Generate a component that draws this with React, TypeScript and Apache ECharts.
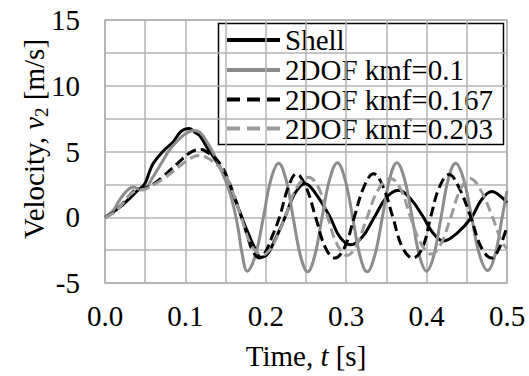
import React, { useEffect, useRef } from "react";
import * as echarts from "echarts";

const seriesNames = ["Shell", "2DOF kmf=0.1", "2DOF kmf=0.167", "2DOF kmf=0.203"];
const xTickLabels = ["0.0", "0.1", "0.2", "0.3", "0.4", "0.5"];
const yTickLabels = ["-5", "0", "5", "10", "15"];

const shellData = [
  [0, 0], [0.01, 0.4], [0.022, 0.95], [0.03, 1.4], [0.039, 1.95], [0.049, 2.5], [0.055, 3.4],
  [0.06, 4.1], [0.072, 5.0], [0.085, 5.75], [0.095, 6.55], [0.105, 6.75], [0.112, 6.45],
  [0.118, 6.2], [0.128, 5.2], [0.137, 4.4], [0.145, 3.6], [0.153, 2.6], [0.162, 1.3], [0.17, 0],
  [0.178, -1.2], [0.186, -2.3], [0.194, -3.05], [0.202, -2.8], [0.21, -1.9], [0.217, -1.0],
  [0.224, 0], [0.236, 1.8], [0.249, 2.55], [0.262, 1.8], [0.28, 0], [0.292, -1.5], [0.305, -2.1],
  [0.32, -1.5], [0.335, 0], [0.35, 1.5], [0.365, 2.05], [0.38, 1.4], [0.395, 0.1], [0.408, -1.2],
  [0.421, -1.8], [0.438, -1.2], [0.456, 0], [0.468, 1.3], [0.481, 1.95], [0.492, 1.6], [0.5, 1.1],
];

const kmf01Data = [
  [0, 0], [0.01, 0.5], [0.018, 1.3], [0.027, 2.0], [0.035, 2.3], [0.042, 2.15], [0.048, 2.1],
  [0.06, 3.1], [0.07, 4.1], [0.08, 5.1], [0.09, 5.8], [0.1, 6.35], [0.11, 6.6], [0.118, 6.45],
  [0.128, 5.6], [0.137, 4.6], [0.145, 3.5], [0.153, 2.3], [0.16, 0.8], [0.166, -1.0], [0.17, -2.6],
  [0.177, -4.1], [0.187, -2.9], [0.197, 0], [0.2065, 2.9], [0.216, 4.1], [0.225, 2.9], [0.234, 0],
  [0.243, -2.9], [0.252, -4.15], [0.261, -2.9], [0.27, 0], [0.2795, 2.9], [0.289, 4.15],
  [0.2985, 2.9], [0.308, 0], [0.317, -2.9], [0.326, -4.15], [0.3355, -2.9], [0.345, 0],
  [0.354, 2.9], [0.363, 4.15], [0.3725, 2.9], [0.382, 0], [0.391, -2.9], [0.4, -4.1],
  [0.409, -2.9], [0.418, 0], [0.427, 2.9], [0.436, 4.1], [0.446, 2.9], [0.456, 0],
  [0.466, -2.9], [0.476, -4.05], [0.485, -2.9], [0.494, 0], [0.5, 2.0],
];

const kmf0167Data = [
  [0, 0], [0.01, 0.35], [0.022, 1.05], [0.035, 1.95], [0.045, 2.2], [0.051, 2.25], [0.062, 2.6],
  [0.072, 3.1], [0.083, 3.7], [0.093, 4.25], [0.103, 4.8], [0.112, 5.1], [0.12, 5.15],
  [0.128, 4.9], [0.137, 4.5], [0.145, 3.9], [0.153, 2.9], [0.162, 1.4], [0.17, 0], [0.177, -1.4],
  [0.184, -2.6], [0.192, -3.1], [0.2, -2.6], [0.207, -1.6], [0.217, 0], [0.228, 2.3], [0.238, 3.3],
  [0.25, 2.3], [0.262, 0], [0.274, -2.3], [0.286, -3.1], [0.298, -2.3], [0.31, 0], [0.322, 2.3],
  [0.334, 3.3], [0.346, 2.3], [0.358, 0], [0.37, -2.3], [0.383, -3.1], [0.395, -2.3], [0.405, 0],
  [0.416, 2.3], [0.428, 3.25], [0.44, 2.3], [0.455, 0], [0.468, -2.3], [0.481, -3.1],
  [0.49, -2.4], [0.5, -0.7],
];

const kmf0203Data = [
  [0, 0], [0.01, 0.3], [0.02, 0.9], [0.035, 1.9], [0.05, 2.15], [0.06, 2.45], [0.072, 2.9],
  [0.083, 3.4], [0.093, 3.9], [0.103, 4.35], [0.112, 4.65], [0.118, 4.7], [0.125, 4.6],
  [0.133, 4.3], [0.14, 3.95], [0.148, 3.4], [0.156, 2.4], [0.164, 1.0], [0.172, -0.5],
  [0.18, -1.9], [0.188, -2.6], [0.197, -2.85], [0.206, -2.4], [0.213, -1.6], [0.224, 0],
  [0.238, 2.2], [0.253, 3.05], [0.266, 2.2], [0.277, 0], [0.289, -2.1], [0.301, -2.9],
  [0.313, -2.1], [0.326, 0], [0.34, 2.1], [0.355, 2.95], [0.368, 2.1], [0.38, 0], [0.393, -2.0],
  [0.406, -2.8], [0.418, -2.0], [0.43, 0], [0.442, 2.1], [0.454, 2.95], [0.467, 2.1], [0.482, 0],
  [0.493, -1.8], [0.5, -2.4],
];

const FONT = "Liberation Serif";
const FS = 29;
const COLORS = ["#000000", "#8c8c8c", "#000000", "#9a9a9a"];
const DASHES: any[] = ["solid", "solid", [10, 5], [10, 5]];

export default function App() {
  const ref = useRef<HTMLDivElement>(null);
  useEffect(() => {
    document.body.style.margin = "0";
    const chart = echarts.init(ref.current!, undefined, { renderer: "svg" });
    const datasets = [shellData, kmf01Data, kmf0167Data, kmf0203Data];
    const series = seriesNames.map((name, i) => ({
      name,
      type: "line",
      data: datasets[i],
      smooth: 0.4,
      symbol: "none",
      lineStyle: { color: COLORS[i], width: 3, type: DASHES[i] },
      itemStyle: { color: COLORS[i] },
    }));
    const rowY = [40, 70, 99.5, 128.5];
    const legendChildren: any[] = [
      {
        type: "rect",
        shape: { x: 218.5, y: 23.5, width: 285, height: 121 },
        style: { fill: "#fff", stroke: "#000", lineWidth: 1.5 },
      },
    ];
    seriesNames.forEach((name, i) => {
      legendChildren.push({
        type: "line",
        shape: { x1: 227, y1: rowY[i], x2: 280, y2: rowY[i] },
        style: {
          stroke: COLORS[i],
          lineWidth: 4,
          lineDash: Array.isArray(DASHES[i]) ? [13, 7] : null,
        },
      });
      legendChildren.push({
        type: "text",
        x: 285,
        y: rowY[i],
        style: {
          text: name,
          fontFamily: FONT,
          fontSize: FS,
          fill: "#000",
          align: "left",
          verticalAlign: "middle",
          lineHeight: 26,
        },
      });
    });
    chart.setOption({
      animation: false,
      backgroundColor: "#fff",
      textStyle: { fontFamily: FONT },
      grid: { left: 105, right: 22, top: 20, bottom: 93, show: true, borderColor: "#a6a6a6", borderWidth: 1.5 },
      xAxis: {
        type: "value",
        min: 0,
        max: 0.5,
        interval: 0.05,
        axisLine: { show: false },
        axisTick: { show: false },
        splitLine: { lineStyle: { color: "#b3b3b3", width: 1.5 } },
        axisLabel: {
          margin: 18,
          fontFamily: FONT,
          fontSize: FS,
          color: "#000",
          formatter: (v: number) => {
            const k = Math.round(v * 10);
            return Math.abs(v * 10 - k) < 1e-6 ? xTickLabels[k] : "";
          },
        },
      },
      yAxis: {
        type: "value",
        min: -5,
        max: 15,
        interval: 2.5,
        axisLine: { show: false },
        axisTick: { show: false },
        splitLine: { lineStyle: { color: "#b3b3b3", width: 1.5 } },
        axisLabel: {
          margin: 25,
          fontFamily: FONT,
          fontSize: FS,
          color: "#000",
          formatter: (v: number) => {
            const k = Math.round((v + 5) / 5);
            return Math.abs((v + 5) / 5 - k) < 1e-6 ? yTickLabels[k] : "";
          },
        },
      },
      graphic: [
        { type: "group", z: 100, children: legendChildren },
        {
          type: "text",
          x: 34,
          y: 139,
          rotation: Math.PI / 2,
          style: {
            text: "Velocity, {i|v}{sub|2} [m/s]",
            fontFamily: FONT,
            fontSize: FS,
            fill: "#000",
            align: "center",
            verticalAlign: "middle",
            rich: {
              i: { fontFamily: FONT, fontSize: FS, fontStyle: "italic" },
              sub: { fontFamily: FONT, fontSize: 19, padding: [14, 0, 0, 0] },
            },
          },
        },
        {
          type: "text",
          x: 306,
          y: 356,
          style: {
            text: "Time, {i|t} [s]",
            fontFamily: FONT,
            fontSize: FS,
            fill: "#000",
            align: "center",
            verticalAlign: "middle",
            rich: { i: { fontFamily: FONT, fontSize: FS, fontStyle: "italic" } },
          },
        },
      ],
      series,
    });
    return () => chart.dispose();
  }, []);
  return <div ref={ref} style={{ width: 529, height: 376 }} />;
}
